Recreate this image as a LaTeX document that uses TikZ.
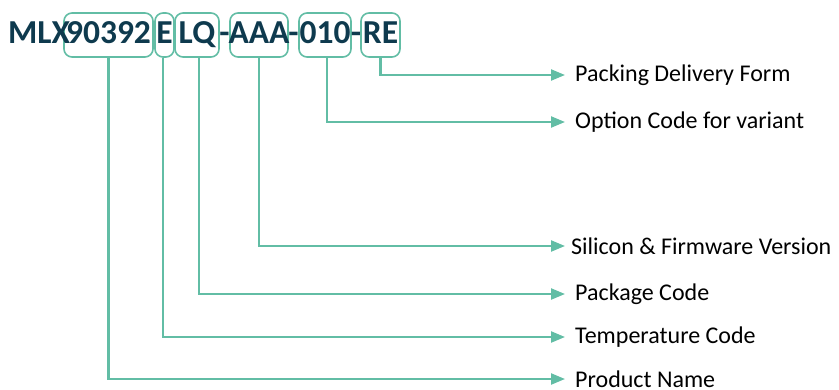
\documentclass[tikz,border=0pt]{standalone}
\usepackage{fontspec}
\setmainfont{Carlito}
\usetikzlibrary{arrows.meta}
\definecolor{tealc}{HTML}{62BDA5}
\definecolor{navy}{HTML}{0E3A4E}
\begin{document}
\begin{tikzpicture}[x=1pt,y=-1pt,
  codebox/.style={draw=tealc, line width=1.6pt, rounded corners=8pt, inner sep=0pt},
  titletext/.style={font=\fontsize{33.5}{33.5}\selectfont\bfseries, text=navy, inner sep=0pt, anchor=base},
  lbl/.style={font=\fontsize{24}{24}\selectfont, anchor=west, inner sep=0pt, text=black},
  conn/.style={draw=tealc, line width=2.2pt, -{Triangle[length=14pt,width=11pt]}}]
\useasboundingbox (0,0) rectangle (839,389);
% code boxes
\node[codebox, minimum width=89pt, minimum height=44pt] (b1) at (108.5,35) {};
\node[codebox, minimum width=19pt, minimum height=44pt] (b2) at (164.5,35) {};
\node[codebox, minimum width=44pt, minimum height=44pt] (b3) at (197,35) {};
\node[codebox, minimum width=58pt, minimum height=44pt] (b4) at (259,35) {};
\node[codebox, minimum width=52pt, minimum height=44pt] (b5) at (325,35) {};
\node[codebox, minimum width=39pt, minimum height=44pt] (b6) at (380.5,35) {};
% title text
\node[titletext, anchor=base west] (t0) at (8,43) {MLX};
\node[titletext] (t1) at (108.5,43) {90392};
\node[titletext] (t2) at (164.5,43) {E};
\node[titletext] (t3) at (197,43) {LQ};
\node[titletext] (d1) at (224.5,43) {-};
\node[titletext] (t4) at (259,43) {AAA};
\node[titletext] (d2) at (293.5,43) {-};
\node[titletext] (t5) at (325,43) {010};
\node[titletext] (d3) at (356,43) {-};
\node[titletext] (t6) at (380.5,43) {RE};
% labels
\node[lbl] (l6) at (575,75) {Packing Delivery Form};
\node[lbl] (l5) at (575,122) {Option Code for variant};
\node[lbl] (l4) at (571,246) {Silicon \& Firmware Version};
\node[lbl] (l3) at (575,294) {Package Code};
\node[lbl] (l2) at (575,337) {Temperature Code};
\node[lbl] (l1) at (575,379) {Product Name};
% connectors
\draw[conn] (b6.south) |- ([xshift=-10pt]l6.west);
\draw[conn] ([xshift=2pt]b5.south) |- ([xshift=-10pt]l5.west);
\draw[conn] (b4.south) |- ([xshift=-6pt]l4.west);
\draw[conn] ([xshift=2pt]b3.south) |- ([xshift=-10pt]l3.west);
\draw[conn] ([xshift=-1.5pt]b2.south) |- ([xshift=-10pt]l2.west);
\draw[conn] (b1.south) |- ([xshift=-10pt]l1.west);
\end{tikzpicture}
\end{document}
